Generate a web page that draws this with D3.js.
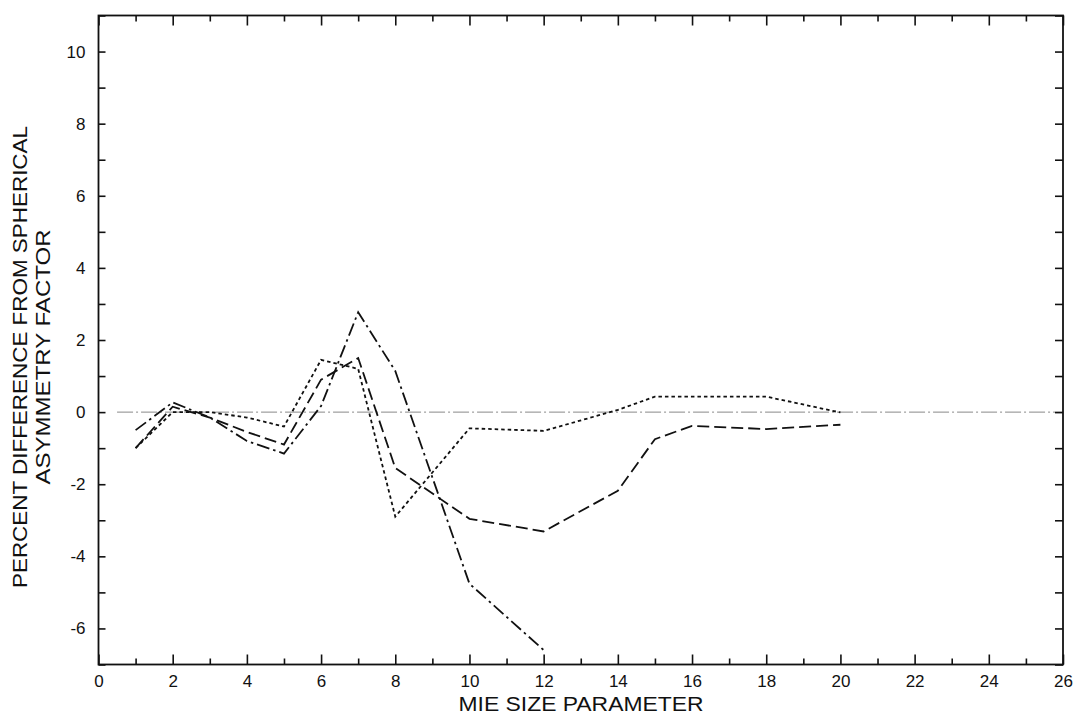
<!DOCTYPE html>
<html>
<head>
<meta charset="utf-8">
<script src="https://cdn.jsdelivr.net/npm/d3@7"></script>
<style>
  html, body { margin: 0; padding: 0; background: #fff; }
  svg { display: block; }
  text { font-family: "Liberation Sans", Arial, Helvetica, sans-serif; fill: #111; }
</style>
</head>
<body>
<script>
// ---- data ----
const xDotted  = [1, 2, 3, 4, 5, 6, 7, 8, 10, 12, 14, 15, 16, 18, 20];
const yDotted  = [-1.0, 0.0, 0.0, -0.15, -0.4, 1.45, 1.2, -2.9, -0.45, -0.52, 0.06, 0.43, 0.43, 0.43, -0.01];

const xDashed  = [1, 2, 3, 4, 5, 6, 7, 8, 10, 12, 14, 15, 16, 18, 20];
const yDashed  = [-1.0, 0.15, -0.15, -0.55, -0.9, 0.9, 1.5, -1.55, -2.96, -3.31, -2.18, -0.75, -0.38, -0.47, -0.35];

const xDashDot = [1, 2, 3, 4, 5, 6, 7, 8, 10, 12];
const yDashDot = [-0.5, 0.27, -0.15, -0.8, -1.15, 0.17, 2.77, 1.14, -4.76, -6.6];

const xRef = [0.5, 26];
const yRef = [0, 0];

const xMajorTicks = [0, 2, 4, 6, 8, 10, 12, 14, 16, 18, 20, 22, 24, 26];
const xMinorTicks = [1, 3, 5, 7, 9, 11, 13, 15, 17, 19, 21, 23, 25];
const yTicks = [-7, -6, -5, -4, -3, -2, -1, 0, 1, 2, 3, 4, 5, 6, 7, 8, 9, 10, 11];
const yLabelTicks = [-6, -4, -2, 0, 2, 4, 6, 8, 10];

const xTitle = "MIE SIZE PARAMETER";
const yTitle1 = "PERCENT DIFFERENCE FROM SPHERICAL";
const yTitle2 = "ASYMMETRY FACTOR";

// ---- layout ----
const W = 1074, H = 715;
const L = 98.5, R = 1063, T = 15.5, B = 664.5;

const svg = d3.select("body").append("svg").attr("width", W).attr("height", H);

const x = d3.scaleLinear().domain([0, 26]).range([L, R]);
const y = d3.scaleLinear().domain([-7, 11]).range([B, T]);

const ink = "#111";

// reference zero line
const line = d3.line().x(d => x(d[0])).y(d => y(d[1]));
svg.append("path")
  .attr("d", line(d3.zip(xRef, yRef)))
  .attr("fill", "none").attr("stroke", "#888").attr("stroke-width", 1)
  .attr("stroke-dasharray", "16,3,2,3");

// series
const series = [
  { xs: xDotted,  ys: yDotted,  dash: "3.5,3" },
  { xs: xDashed,  ys: yDashed,  dash: "12,5" },
  { xs: xDashDot, ys: yDashDot, dash: "13,4,2.5,4" }
];
series.forEach(s => {
  svg.append("path")
    .attr("d", line(d3.zip(s.xs, s.ys)))
    .attr("fill", "none").attr("stroke", ink).attr("stroke-width", 1.8)
    .attr("stroke-dasharray", s.dash).attr("stroke-linejoin", "miter");
});

// axes (ticks inward)
function styleAxis(g) {
  g.select(".domain").remove();
  g.selectAll(".tick line").attr("stroke", ink).attr("stroke-width", 1.6);
}

// bottom
svg.append("g").attr("transform", `translate(0,${B})`)
  .call(d3.axisBottom(x).tickValues(xMajorTicks).tickSize(-10).tickPadding(10)
        .tickFormat(d => String(d)))
  .call(styleAxis)
  .call(g => g.selectAll(".tick text").attr("font-size", 17).attr("fill", ink)
        .attr("font-family", '"Liberation Sans", Arial, sans-serif'));
svg.append("g").attr("transform", `translate(0,${B})`)
  .call(d3.axisBottom(x).tickValues(xMinorTicks).tickSize(-6).tickFormat(""))
  .call(styleAxis);

// top
svg.append("g").attr("transform", `translate(0,${T})`)
  .call(d3.axisTop(x).tickValues(xMajorTicks).tickSize(-10).tickFormat(""))
  .call(styleAxis);
svg.append("g").attr("transform", `translate(0,${T})`)
  .call(d3.axisTop(x).tickValues(xMinorTicks).tickSize(-6).tickFormat(""))
  .call(styleAxis);

// left
svg.append("g").attr("transform", `translate(${L},0)`)
  .call(d3.axisLeft(y).tickValues(yTicks).tickSize(-7).tickPadding(13)
        .tickFormat(d => yLabelTicks.includes(d) ? String(d) : ""))
  .call(styleAxis)
  .call(g => g.selectAll(".tick text").attr("font-size", 17).attr("fill", ink)
        .attr("font-family", '"Liberation Sans", Arial, sans-serif'));

// right
svg.append("g").attr("transform", `translate(${R},0)`)
  .call(d3.axisRight(y).tickValues(yTicks).tickSize(-8).tickFormat(""))
  .call(styleAxis);

// frame
svg.append("rect")
  .attr("x", L).attr("y", T).attr("width", R - L).attr("height", B - T)
  .attr("fill", "none").attr("stroke", ink).attr("stroke-width", 1.8);

// titles
svg.append("text")
  .attr("x", 581).attr("y", 711).attr("text-anchor", "middle")
  .attr("font-size", 20)
  .attr("textLength", 245).attr("lengthAdjust", "spacingAndGlyphs")
  .text(xTitle);

const yc = 357;
svg.append("text")
  .attr("transform", `translate(27,${yc}) rotate(-90)`)
  .attr("text-anchor", "middle").attr("font-size", 20)
  .attr("textLength", 462).attr("lengthAdjust", "spacingAndGlyphs")
  .text(yTitle1);
svg.append("text")
  .attr("transform", `translate(50,${yc}) rotate(-90)`)
  .attr("text-anchor", "middle").attr("font-size", 20)
  .attr("textLength", 255).attr("lengthAdjust", "spacingAndGlyphs")
  .text(yTitle2);
</script>
</body>
</html>
